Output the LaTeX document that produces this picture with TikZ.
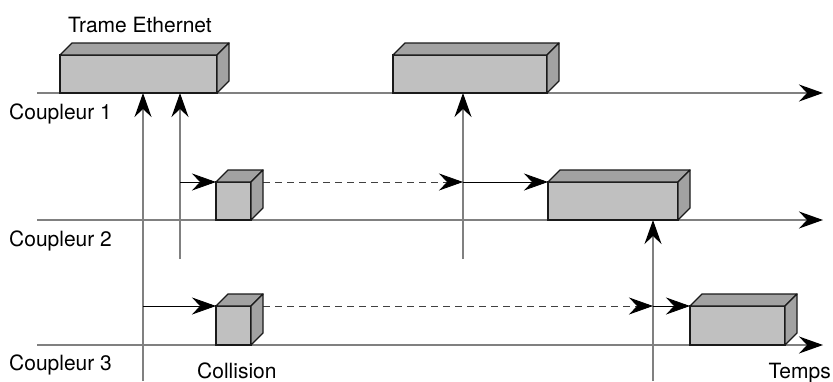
\documentclass[tikz,border=0pt]{standalone}
\usepackage{fontspec}
\setmainfont{TeX Gyre Heros}
\usetikzlibrary{arrows.meta,calc}
\definecolor{axisgray}{HTML}{808080}
\definecolor{frontgray}{HTML}{C0C0C0}
\definecolor{facegray}{HTML}{A2A2A2}
\definecolor{edgecol}{HTML}{1A1A1A}
\newcommand\cubfaces[1]{%
  \draw[cubeface] (#1.north west) -- ++(12pt,12pt) -- ($(#1.north east)+(12pt,12pt)$) -- (#1.north east) -- cycle;
  \draw[cubeface] (#1.north east) -- ++(12pt,12pt) -- ($(#1.south east)+(12pt,12pt)$) -- (#1.south east) -- cycle;}
\begin{document}
\begin{tikzpicture}[x=1pt,y=-1pt,
  tip/.style={-{Stealth[black,length=24pt,width=17pt,inset=8pt]}},
  axisline/.style={draw=axisgray,line width=1.3pt,tip},
  vline/.style={draw=axisgray,line width=1.2pt,tip},
  hline/.style={draw=black,line width=0.8pt,tip},
  dline/.style={draw=black!75,line width=0.8pt,dash pattern=on 7pt off 5pt,tip},
  frontbox/.style={draw=edgecol,fill=frontgray,line width=1.3pt,rectangle,inner sep=0pt,outer sep=0pt,anchor=south west},
  cubeface/.style={draw=edgecol,fill=facegray,line width=1.3pt,line join=round},
  lbl/.style={inner sep=0pt,font=\fontsize{21}{25}\selectfont}]
\useasboundingbox (0,0) rectangle (833,381);
% axes
\coordinate (ax1s) at (37,93);  \coordinate (ax1e) at (823,93);
\coordinate (ax2s) at (37,220); \coordinate (ax2e) at (823,220);
\coordinate (ax3s) at (37,345); \coordinate (ax3e) at (823,345);
\draw[axisline] (ax1s) -- (ax1e);
\draw[axisline] (ax2s) -- (ax2e);
\draw[axisline] (ax3s) -- (ax3e);
% vertical lines
\coordinate (v1b) at (143,381); \coordinate (v1t) at (143,93);
\coordinate (v2b) at (180,259); \coordinate (v2t) at (180,93);
\coordinate (v3b) at (463,259); \coordinate (v3t) at (463,93);
\coordinate (v4b) at (653,381); \coordinate (v4t) at (653,220);
\draw[vline] (v1b) -- (v1t);
\draw[vline] (v2b) -- (v2t);
\draw[vline] (v3b) -- (v3t);
\draw[vline] (v4b) -- (v4t);
% boxes
\node[frontbox,minimum width=157pt,minimum height=38pt] (b1) at (60,93) {};
\node[frontbox,minimum width=154pt,minimum height=38pt] (b2) at (393,93) {};
\node[frontbox,minimum width=130pt,minimum height=38pt] (b3) at (548,220) {};
\node[frontbox,minimum width=35pt,minimum height=38pt] (c1) at (216,220) {};
\node[frontbox,minimum width=35pt,minimum height=39pt] (c2) at (216,345) {};
\node[frontbox,minimum width=95pt,minimum height=39pt] (b4) at (690,345) {};
% horizontal connectors
\coordinate (h1) at (180,182);
\coordinate (d1) at (463,182);
\coordinate (h2) at (143,306);
\coordinate (d2) at (653,306);
\draw[dline] (c1.north east) -- (d1);
\draw[dline] (c2.north east) -- (d2);
\cubfaces{b1}
\cubfaces{b2}
\cubfaces{b3}
\cubfaces{c1}
\cubfaces{c2}
\cubfaces{b4}
\draw[hline] (h1) -- (c1.north west);
\draw[hline] (d1) -- (b3.north west);
\draw[hline] (h2) -- (c2.north west);
\draw[hline] (d2) -- (b4.north west);
% labels
\node[lbl,anchor=base west] (t0) at (68,32) {Trame Ethernet};
\node[lbl,anchor=base west] (t1) at (9,119) {Coupleur 1};
\node[lbl,anchor=base west] (t2) at (9,246) {Coupleur 2};
\node[lbl,anchor=base west] (t3) at (9,370) {Coupleur 3};
\node[lbl,anchor=base west] (t4) at (197,378) {Collision};
\node[lbl,anchor=base east] (t5) at (831,378) {Temps};
\end{tikzpicture}
\end{document}
